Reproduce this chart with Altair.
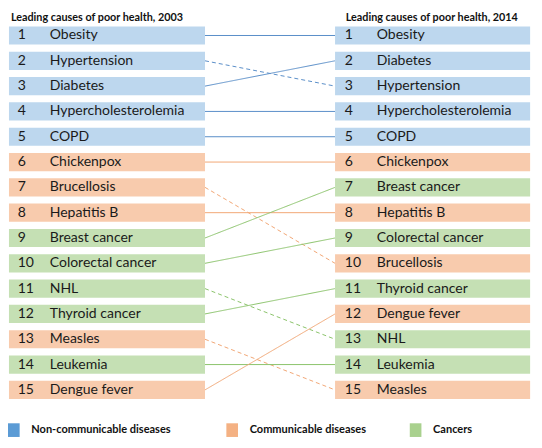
import altair as alt
import pandas as pd

# ---- data ----
ranks = list(range(1, 16))
causes_2003 = ["Obesity", "Hypertension", "Diabetes", "Hypercholesterolemia", "COPD",
               "Chickenpox", "Brucellosis", "Hepatitis B", "Breast cancer", "Colorectal cancer",
               "NHL", "Thyroid cancer", "Measles", "Leukemia", "Dengue fever"]
causes_2014 = ["Obesity", "Diabetes", "Hypertension", "Hypercholesterolemia", "COPD",
               "Chickenpox", "Breast cancer", "Hepatitis B", "Colorectal cancer", "Brucellosis",
               "Thyroid cancer", "Dengue fever", "NHL", "Leukemia", "Measles"]
groups = ["Non-communicable diseases", "Communicable diseases", "Cancers"]
group_of = {
    "Obesity": groups[0], "Hypertension": groups[0], "Diabetes": groups[0],
    "Hypercholesterolemia": groups[0], "COPD": groups[0],
    "Chickenpox": groups[1], "Brucellosis": groups[1], "Hepatitis B": groups[1],
    "Measles": groups[1], "Dengue fever": groups[1],
    "Breast cancer": groups[2], "Colorectal cancer": groups[2], "NHL": groups[2],
    "Thyroid cancer": groups[2], "Leukemia": groups[2],
}
titles = ["Leading causes of poor health, 2003", "Leading causes of poor health, 2014"]

# ---- styles ----
FILL = {groups[0]: "#bdd7ee", groups[1]: "#f8cbad", groups[2]: "#c5e0b4"}
LINE = {groups[0]: "#5b8fc9", groups[1]: "#f2a877", groups[2]: "#8cc46c"}
KEY = {groups[0]: "#5b9bd5", groups[1]: "#f4b183", groups[2]: "#a9d18e"}
FONT = "Lato"

# layout (x in a 0..542 layout unit, y in rank units)
L_BAR = (1, 203)
R_BAR = (337, 538)
L_NUM, L_LAB = 10, 43
R_NUM, R_LAB = 347, 380
HALF = 0.36

rows = []
for side, causes, (x0, x1), nx, lx in [(0, causes_2003, L_BAR, L_NUM, L_LAB),
                                        (1, causes_2014, R_BAR, R_NUM, R_LAB)]:
    for r, c in zip(ranks, causes):
        rows.append(dict(rank=r, label=c, num=str(r), fill=FILL[group_of[c]],
                         x0=x0, x1=x1, nx=nx, lx=lx, y0=r - HALF, y1=r + HALF))
bars = pd.DataFrame(rows)

links = []
for c in causes_2003:
    r03 = ranks[causes_2003.index(c)]
    r14 = ranks[causes_2014.index(c)]
    links.append(dict(cause=c, r03=r03, r14=r14, xa=L_BAR[1], xb=R_BAR[0],
                      stroke=LINE[group_of[c]], dash="down" if r14 > r03 else "up"))
links = pd.DataFrame(links)

title_df = pd.DataFrame(dict(text=titles, x=[3, 348], y=[0.3, 0.3]))
legend_df = pd.DataFrame(dict(text=groups, fill=[KEY[g] for g in groups],
                              sx0=[0, 225, 414], sx1=[12, 237, 426],
                              tx=[24, 249, 438], y=[16.59] * 3))

xs = alt.Scale(domain=[0, 542])
ys = alt.Scale(domain=[-0.086, 16.98], reverse=True)

rect = alt.Chart(bars).mark_rect().encode(
    x=alt.X("x0:Q", scale=xs, axis=None), x2="x1:Q",
    y=alt.Y("y0:Q", scale=ys, axis=None), y2="y1:Q",
    color=alt.Color("fill:N", scale=None))

num = alt.Chart(bars).mark_text(align="left", baseline="middle", font=FONT,
                                fontSize=14, color="#1a1a1a").encode(
    x=alt.X("nx:Q", scale=xs, axis=None), y=alt.Y("rank:Q", scale=ys, axis=None),
    text="num:N")

lab = alt.Chart(bars).mark_text(align="left", baseline="middle", font=FONT,
                                fontSize=14, color="#1a1a1a").encode(
    x=alt.X("lx:Q", scale=xs, axis=None), y=alt.Y("rank:Q", scale=ys, axis=None),
    text="label:N")

rules = alt.Chart(links).mark_rule(strokeWidth=1).encode(
    x=alt.X("xa:Q", scale=xs, axis=None), x2="xb:Q",
    y=alt.Y("r03:Q", scale=ys, axis=None), y2="r14:Q",
    color=alt.Color("stroke:N", scale=None),
    strokeDash=alt.StrokeDash("dash:N", scale=alt.Scale(domain=["up", "down"],
                                                        range=[[1, 0], [4, 3]]), legend=None))

ttl = alt.Chart(title_df).mark_text(align="left", baseline="middle", font=FONT,
                                    fontSize=10.8, fontWeight="bold", color="#111111").encode(
    x=alt.X("x:Q", scale=xs, axis=None), y=alt.Y("y:Q", scale=ys, axis=None), text="text:N")

key = alt.Chart(legend_df).transform_calculate(ya="datum.y - 0.27", yb="datum.y + 0.27").mark_rect().encode(
    x=alt.X("sx0:Q", scale=xs, axis=None), x2="sx1:Q",
    y=alt.Y("ya:Q", scale=ys, axis=None), y2="yb:Q",
    color=alt.Color("fill:N", scale=None))
keytxt = alt.Chart(legend_df).mark_text(align="left", baseline="middle", font=FONT,
                                        fontSize=11, fontWeight="bold", color="#111111").encode(
    x=alt.X("tx:Q", scale=xs, axis=None), y=alt.Y("y:Q", scale=ys, axis=None), text="text:N")

chart = alt.layer(rules, rect, num, lab, ttl, key, keytxt).properties(
    width=526, height=432, padding=0,
    autosize=alt.AutoSizeParams(type="none")
).configure_view(strokeWidth=0)

chart.save("out.html", embed_options={"renderer": "svg", "actions": False})
